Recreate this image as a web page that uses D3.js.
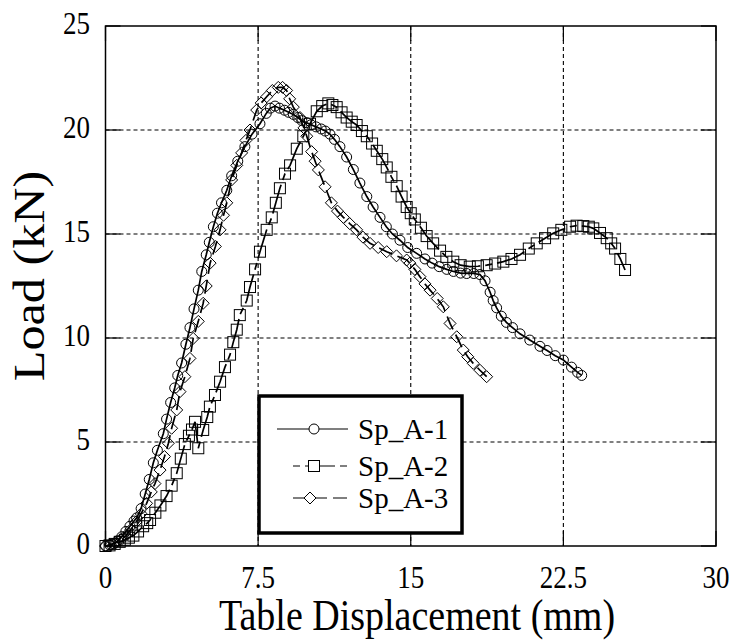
<!DOCTYPE html>
<html>
<head>
<meta charset="utf-8">
<script src="https://cdn.jsdelivr.net/npm/d3@7"></script>
<style>
  body { margin: 0; background: #fff; }
  text { font-family: "Liberation Serif", "Times New Roman", serif; fill: #000; }
</style>
</head>
<body>
<div id="chart"></div>
<script>
var width = 735, height = 642;

// x tick values and labels
var xTicks = [0, 7.5, 15, 22.5, 30];
var xTickLabels = ["0", "7.5", "15", "22.5", "30"];
var yTicks = [0, 5, 10, 15, 20, 25];
var yTickLabels = ["0", "5", "10", "15", "20", "25"];

var seriesNames = ["Sp_A-1", "Sp_A-2", "Sp_A-3"];

// Sp_A-1 (circles)
var sp1 = [[0,0],[0.2,0.05],[0.4,0.12],[0.6,0.25],[0.8,0.45],[1.0,0.7],[1.2,0.95],[1.4,1.2],[1.53,1.35],
  [1.75,1.8],[1.95,2.5],[2.15,3.2],[2.35,4.0],[2.55,4.6],[2.84,5.4],[3.0,6.1],[3.2,6.9],[3.4,7.6],
  [3.55,8.2],[3.74,8.8],[3.95,9.7],[4.15,10.5],[4.35,11.4],[4.56,12.3],[4.73,13.2],[4.95,14.0],
  [5.1,14.6],[5.3,15.35],[5.5,16.0],[5.7,16.5],[5.96,17.1],[6.2,17.8],[6.5,18.5],[6.85,19.2],
  [7.2,19.8],[7.59,20.3],[7.9,20.8],[8.1,21.05],[8.33,21.15],[8.55,21.05],[8.8,20.95],[9.0,20.85],
  [9.23,20.75],[9.45,20.6],[9.65,20.45],[9.89,20.35],[10.1,20.25],[10.35,20.15],[10.6,20.05],
  [10.8,19.95],[11.03,19.8],[11.25,19.55],[11.52,19.2],[11.85,18.7],[12.18,18.1],[12.5,17.45],
  [12.84,16.8],[13.15,16.3],[13.49,15.8],[13.8,15.35],[14.1,15.0],[14.47,14.7],[14.85,14.35],
  [15.29,14.07],[15.7,13.8],[16.05,13.6],[16.4,13.43],[16.77,13.3],[17.1,13.2],[17.45,13.12],
  [17.75,13.1],[18.1,13.1],[18.4,13.05],[18.65,12.75],[18.9,12.2],[19.05,11.8],[19.22,11.45],
  [19.45,11.05],[19.7,10.75],[20.0,10.5],[20.37,10.2],[20.85,9.9],[21.35,9.6],[21.7,9.4],
  [22.1,9.15],[22.5,8.94],[22.9,8.6],[23.2,8.35],[23.4,8.2]];

// Sp_A-2 (squares)
var sp2 = [[0,0],[0.2,0.03],[0.45,0.1],[0.7,0.2],[0.95,0.3],[1.15,0.4],[1.37,0.5],[1.6,0.7],
  [1.85,0.95],[2.05,1.1],[2.19,1.25],[2.45,1.6],[2.7,1.95],[3.0,2.4],[3.25,2.9],[3.5,3.5],[3.7,4.2],
  [3.9,4.9],[4.1,5.3],[4.25,5.6],[4.4,5.97],[4.56,4.7],[4.8,5.58],[5.0,6.2],[5.13,6.7],[5.38,7.26],
  [5.63,7.9],[5.87,8.6],[6.12,9.2],[6.28,9.8],[6.45,10.4],[6.6,11.1],[6.94,11.8],[7.1,12.45],
  [7.35,13.3],[7.59,14.15],[7.92,15.2],[8.17,15.8],[8.37,16.5],[8.57,17.2],[8.82,17.9],[9.07,18.3],
  [9.4,19.1],[9.72,19.7],[10.05,20.3],[10.38,20.9],[10.65,21.15],[10.95,21.28],[11.15,21.2],
  [11.36,21.1],[11.6,20.85],[11.85,20.6],[12.1,20.4],[12.34,20.24],[12.6,19.95],[12.84,19.7],
  [13.1,19.35],[13.33,19.0],[13.6,18.6],[13.82,18.2],[14.05,17.75],[14.31,17.3],[14.55,16.8],
  [14.8,16.3],[15.0,16.0],[15.2,15.7],[15.5,15.3],[15.78,14.9],[16.1,14.55],[16.44,14.2],
  [16.75,13.9],[17.09,13.67],[17.45,13.5],[17.9,13.43],[18.3,13.45],[18.73,13.5],[19.15,13.58],
  [19.55,13.67],[19.95,13.8],[20.37,14.0],[20.8,14.3],[21.19,14.55],[21.6,14.8],[22.0,15.03],
  [22.4,15.2],[22.83,15.35],[23.15,15.4],[23.48,15.38],[23.75,15.35],[23.97,15.27],[24.3,15.05],
  [24.63,14.8],[24.85,14.55],[25.04,14.3],[25.3,13.8],[25.53,13.27]];

// Sp_A-3 (diamonds)
var sp3 = [[0,0],[0.25,0.05],[0.5,0.15],[0.75,0.3],[1.0,0.5],[1.25,0.8],[1.5,1.15],[1.75,1.55],
  [2.02,2.05],[2.25,2.6],[2.43,3.0],[2.68,3.65],[2.9,4.3],[3.09,4.94],[3.25,5.66],[3.5,6.54],
  [3.66,7.42],[3.9,8.14],[4.15,9.02],[4.31,9.98],[4.56,10.8],[4.8,11.67],[4.95,12.5],[5.14,13.6],
  [5.4,14.4],[5.63,15.2],[5.8,15.9],[5.96,16.5],[6.2,17.6],[6.45,18.3],[6.69,18.9],[6.9,19.5],
  [7.1,20.0],[7.43,20.96],[7.65,21.3],[7.92,21.6],[8.2,21.9],[8.49,22.05],[8.7,22.05],[8.9,21.9],
  [9.05,21.5],[9.23,21.1],[9.56,20.6],[9.75,20.1],[9.89,19.7],[10.13,18.96],[10.3,18.5],
  [10.46,18.08],[10.79,17.27],[11.1,16.5],[11.4,16.1],[11.69,15.8],[12.0,15.5],[12.34,15.2],
  [12.65,14.85],[13.0,14.55],[13.4,14.35],[13.82,14.15],[14.3,13.95],[14.8,13.75],[14.96,13.6],
  [15.2,13.3],[15.45,12.95],[15.7,12.6],[15.95,12.3],[16.3,11.9],[16.6,11.5],[16.93,10.7],
  [17.26,10.06],[17.58,9.42],[17.8,9.1],[18.07,8.78],[18.4,8.45],[18.73,8.14]];

var series = [
  { name: seriesNames[0], data: sp1, marker: "circle", dash: null },
  { name: seriesNames[1], data: sp2, marker: "square", dash: "7,5,30,5" },
  { name: seriesNames[2], data: sp3, marker: "diamond", dash: "14,6" }
];

var pLeft = 105.5, pRight = 716, pTop = 26, pBottom = 546;
var stretch = 1.14; // text in the picture is a bit taller than wide

var svg = d3.select("#chart")
  .append("svg")
  .attr("width", width)
  .attr("height", height);

var x = d3.scaleLinear().domain([0, 30]).range([pLeft, pRight]);
var y = d3.scaleLinear().domain([0, 25]).range([pBottom, pTop]);

// grid
var grid = svg.append("g").attr("class", "grid")
  .attr("stroke", "#000").attr("stroke-width", 1.1).attr("stroke-dasharray", "4,3");
grid.selectAll("line.v")
  .data(xTicks.slice(1, -1))
  .enter().append("line")
  .attr("x1", function(d) { return x(d); }).attr("x2", function(d) { return x(d); })
  .attr("y1", pTop).attr("y2", pBottom);
grid.selectAll("line.h")
  .data(yTicks.slice(1, -1))
  .enter().append("line")
  .attr("y1", function(d) { return y(d); }).attr("y2", function(d) { return y(d); })
  .attr("x1", pLeft).attr("x2", pRight);

// inward ticks on all four sides
var tl = 15;
var ticks = svg.append("g").attr("stroke", "#000").attr("stroke-width", 1.2);
xTicks.forEach(function(d) {
  ticks.append("line").attr("x1", x(d)).attr("x2", x(d)).attr("y1", pBottom).attr("y2", pBottom - tl);
  ticks.append("line").attr("x1", x(d)).attr("x2", x(d)).attr("y1", pTop).attr("y2", pTop + tl);
});
yTicks.forEach(function(d) {
  ticks.append("line").attr("y1", y(d)).attr("y2", y(d)).attr("x1", pLeft).attr("x2", pLeft + tl);
  ticks.append("line").attr("y1", y(d)).attr("y2", y(d)).attr("x1", pRight).attr("x2", pRight - tl);
});

// frame
svg.append("rect")
  .attr("x", pLeft).attr("y", pTop)
  .attr("width", pRight - pLeft).attr("height", pBottom - pTop)
  .attr("fill", "none").attr("stroke", "#000").attr("stroke-width", 1.5);

// tick labels
function stretchedText(g, tx, ty, str, size, anchor) {
  return g.append("text")
    .attr("transform", "translate(" + tx + "," + ty + ") scale(1," + stretch + ")")
    .attr("text-anchor", anchor)
    .style("font-size", size + "px")
    .text(str);
}
xTicks.forEach(function(d, i) {
  stretchedText(svg, x(d), pBottom + 42, xTickLabels[i], 27, "middle");
});
yTicks.forEach(function(d, i) {
  stretchedText(svg, 90, y(d) + 8, yTickLabels[i], 27, "end");
});

// axis titles
stretchedText(svg, 417, 630, "Table Displacement (mm)", 38, "middle");
svg.append("text")
  .attr("transform", "translate(44,276) rotate(-90) scale(" + stretch + ",1)")
  .attr("text-anchor", "middle")
  .style("font-size", "44px")
  .text("Load (kN)");

// markers
function drawMarker(g, type, px, py) {
  if (type === "circle") {
    g.append("circle").attr("cx", px).attr("cy", py).attr("r", 5);
  } else if (type === "square") {
    g.append("rect").attr("x", px - 5.5).attr("y", py - 5.5).attr("width", 11).attr("height", 11);
  } else {
    g.append("path").attr("d", "M" + px + "," + (py - 6) + "L" + (px + 6) + "," + py +
      "L" + px + "," + (py + 6) + "L" + (px - 6) + "," + py + "Z");
  }
}

var line = d3.line()
  .x(function(d) { return x(d[0]); })
  .y(function(d) { return y(d[1]); });

var plot = svg.append("g").attr("class", "series");
series.forEach(function(s) {
  plot.append("path")
    .datum(s.data)
    .attr("d", line)
    .attr("fill", "none")
    .attr("stroke", "#000")
    .attr("stroke-width", 1.7)
    .attr("stroke-dasharray", s.dash);
  var mg = plot.append("g").attr("fill", "none").attr("stroke", "#000").attr("stroke-width", 1);
  s.data.forEach(function(d) { drawMarker(mg, s.marker, x(d[0]), y(d[1])); });
});

// legend
var legend = svg.append("g").attr("class", "legend");
legend.append("rect")
  .attr("x", 259).attr("y", 396).attr("width", 203).attr("height", 137)
  .attr("fill", "#fff").attr("stroke", "#000").attr("stroke-width", 3.5);
var legendRows = [
  { y: 429, x1: 277, mx: 314 },
  { y: 466, x1: 293, mx: 314 },
  { y: 498, x1: 293, mx: 310 }
];
series.forEach(function(s, i) {
  var r = legendRows[i];
  legend.append("line")
    .attr("x1", r.x1).attr("x2", 348).attr("y1", r.y).attr("y2", r.y)
    .attr("stroke", "#000").attr("stroke-width", 1.2)
    .attr("stroke-dasharray", s.dash);
  var mg = legend.append("g").attr("fill", "#fff").attr("stroke", "#000").attr("stroke-width", 1);
  drawMarker(mg, s.marker, r.mx, r.y);
  legend.append("text")
    .attr("x", 358).attr("y", r.y + 10)
    .style("font-size", "29px")
    .text(s.name);
});
</script>
</body>
</html>
